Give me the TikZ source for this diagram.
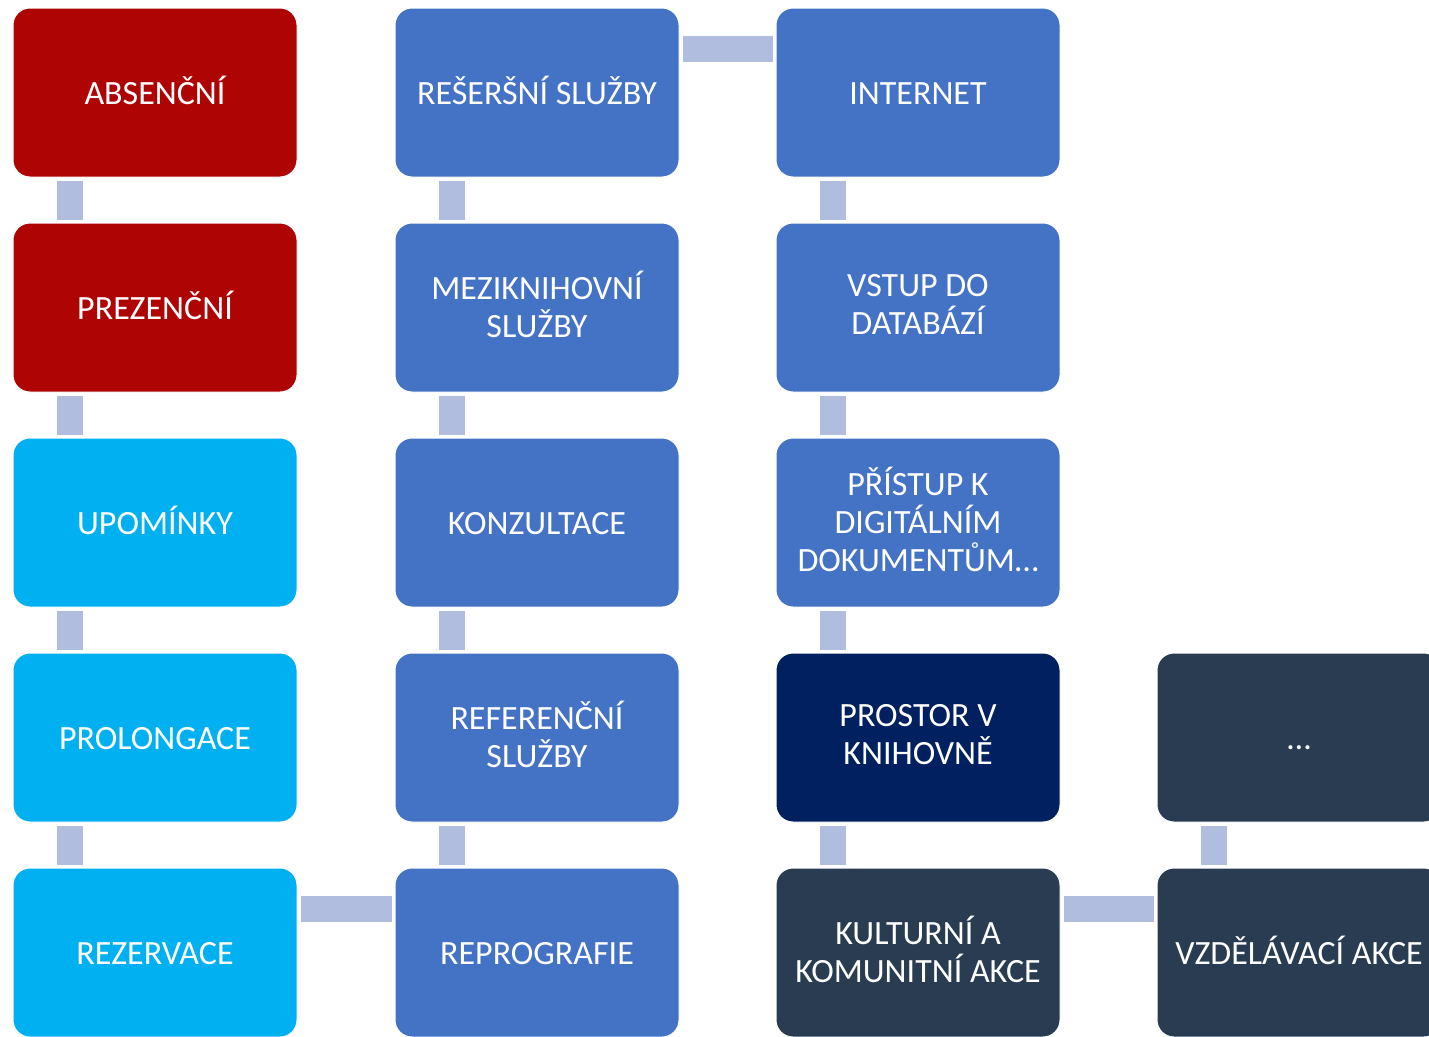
\documentclass[tikz,border=0pt]{standalone}
\usepackage{fontspec}
\setmainfont{Carlito}
\usepackage{tikz}

\definecolor{redcard}{HTML}{AF0404}
\definecolor{cyancard}{HTML}{00B0F0}
\definecolor{bluecard}{HTML}{4472C4}
\definecolor{navycard}{HTML}{002060}
\definecolor{slatecard}{HTML}{293C51}
\definecolor{barblue}{HTML}{B1BDDF}

\begin{document}
\begin{tikzpicture}[x=1pt,y=-1pt]
  \tikzset{card/.style = {shape=rectangle,rounded corners=17pt,draw=white,line width=1pt,minimum width=284pt,minimum height=169pt,text=white,align=center,font=\fontsize{34}{38}\selectfont,
    execute at begin node={\rule{0pt}{30pt}},execute at end node={\rule[-7pt]{0pt}{7pt}}}}
  \tikzset{bar/.style = {draw=barblue,line width=26pt,shorten <=3pt,shorten >=3pt}}
  \useasboundingbox (0,0) rectangle (1429,1036);
  \clip (0,0) rectangle (1429,1036);
	% first column
	\node[card,fill=redcard] (absen) at (155,92.5) {ABSENČNÍ};
	\node[card,fill=redcard] (prez) at (155,307.5) {PREZENČNÍ};
	\node[card,fill=cyancard] (upom) at (155,522.5) {UPOMÍNKY};
	\node[card,fill=cyancard] (prolong) at (155,737.5) {PROLONGACE};
	\node[card,fill=cyancard] (rezerv) at (155,952.5) {REZERVACE};
	
	% second column
	\node[card,fill=bluecard] (reserse) at (537,92.5) {REŠERŠNÍ SLUŽBY};
	\node[card,fill=bluecard] (mezik) at (537,307.5) {MEZIKNIHOVNÍ\\SLUŽBY};
	\node[card,fill=bluecard] (konzult) at (537,522.5) {KONZULTACE};
	\node[card,fill=bluecard] (refer) at (537,737.5) {REFERENČNÍ\\SLUŽBY};
	\node[card,fill=bluecard] (repro) at (537,952.5) {REPROGRAFIE};
	
	% third column
	\node[card,fill=bluecard] (internet) at (918,92.5) {INTERNET};
	\node[card,fill=bluecard] (databaze) at (918,307.5) {VSTUP DO\\DATABÁZÍ};
	\node[card,fill=bluecard] (pristup) at (918,522.5) {PŘÍSTUP K\\DIGITÁLNÍM\\DOKUMENTŮM…};
	\node[card,fill=navycard] (prostor) at (918,737.5) {PROSTOR V\\KNIHOVNĚ};
	\node[card,fill=slatecard] (kultur) at (918,952.5) {KULTURNÍ A\\KOMUNITNÍ AKCE};
	
	% fourth column
	\node[card,fill=slatecard] (dalsi) at (1299,737.5) {…};
	\node[card,fill=slatecard] (vzdel) at (1299,952.5) {VZDĚLÁVACÍ AKCE};
	
	\draw[bar] ([xshift=57pt]absen.south west) -- ([xshift=57pt]prez.north west);
	\draw[bar] ([xshift=57pt]prez.south west) -- ([xshift=57pt]upom.north west);
	\draw[bar] ([xshift=57pt]upom.south west) -- ([xshift=57pt]prolong.north west);
	\draw[bar] ([xshift=57pt]prolong.south west) -- ([xshift=57pt]rezerv.north west);
	\draw[bar] ([yshift=-41pt]rezerv.north east) -- ([yshift=-41pt]repro.north west);
	
	\draw[bar] ([xshift=57pt]repro.north west) -- ([xshift=57pt]refer.south west);
	\draw[bar] ([xshift=57pt]refer.north west) -- ([xshift=57pt]konzult.south west);
	\draw[bar] ([xshift=57pt]konzult.north west) -- ([xshift=57pt]mezik.south west);
	\draw[bar] ([xshift=57pt]mezik.north west) -- ([xshift=57pt]reserse.south west);
	\draw[bar] ([yshift=-41pt]reserse.north east) -- ([yshift=-41pt]internet.north west);
	
	\draw[bar] ([xshift=57pt]internet.south west) -- ([xshift=57pt]databaze.north west);
	\draw[bar] ([xshift=57pt]databaze.south west) -- ([xshift=57pt]pristup.north west);
	\draw[bar] ([xshift=57pt]pristup.south west) -- ([xshift=57pt]prostor.north west);
	\draw[bar] ([xshift=57pt]prostor.south west) -- ([xshift=57pt]kultur.north west);
	\draw[bar] ([yshift=-41pt]kultur.north east) -- ([yshift=-41pt]vzdel.north west);
	
	\draw[bar] ([xshift=57pt]vzdel.north west) -- ([xshift=57pt]dalsi.south west);
   
\end{tikzpicture}
\end{document}
